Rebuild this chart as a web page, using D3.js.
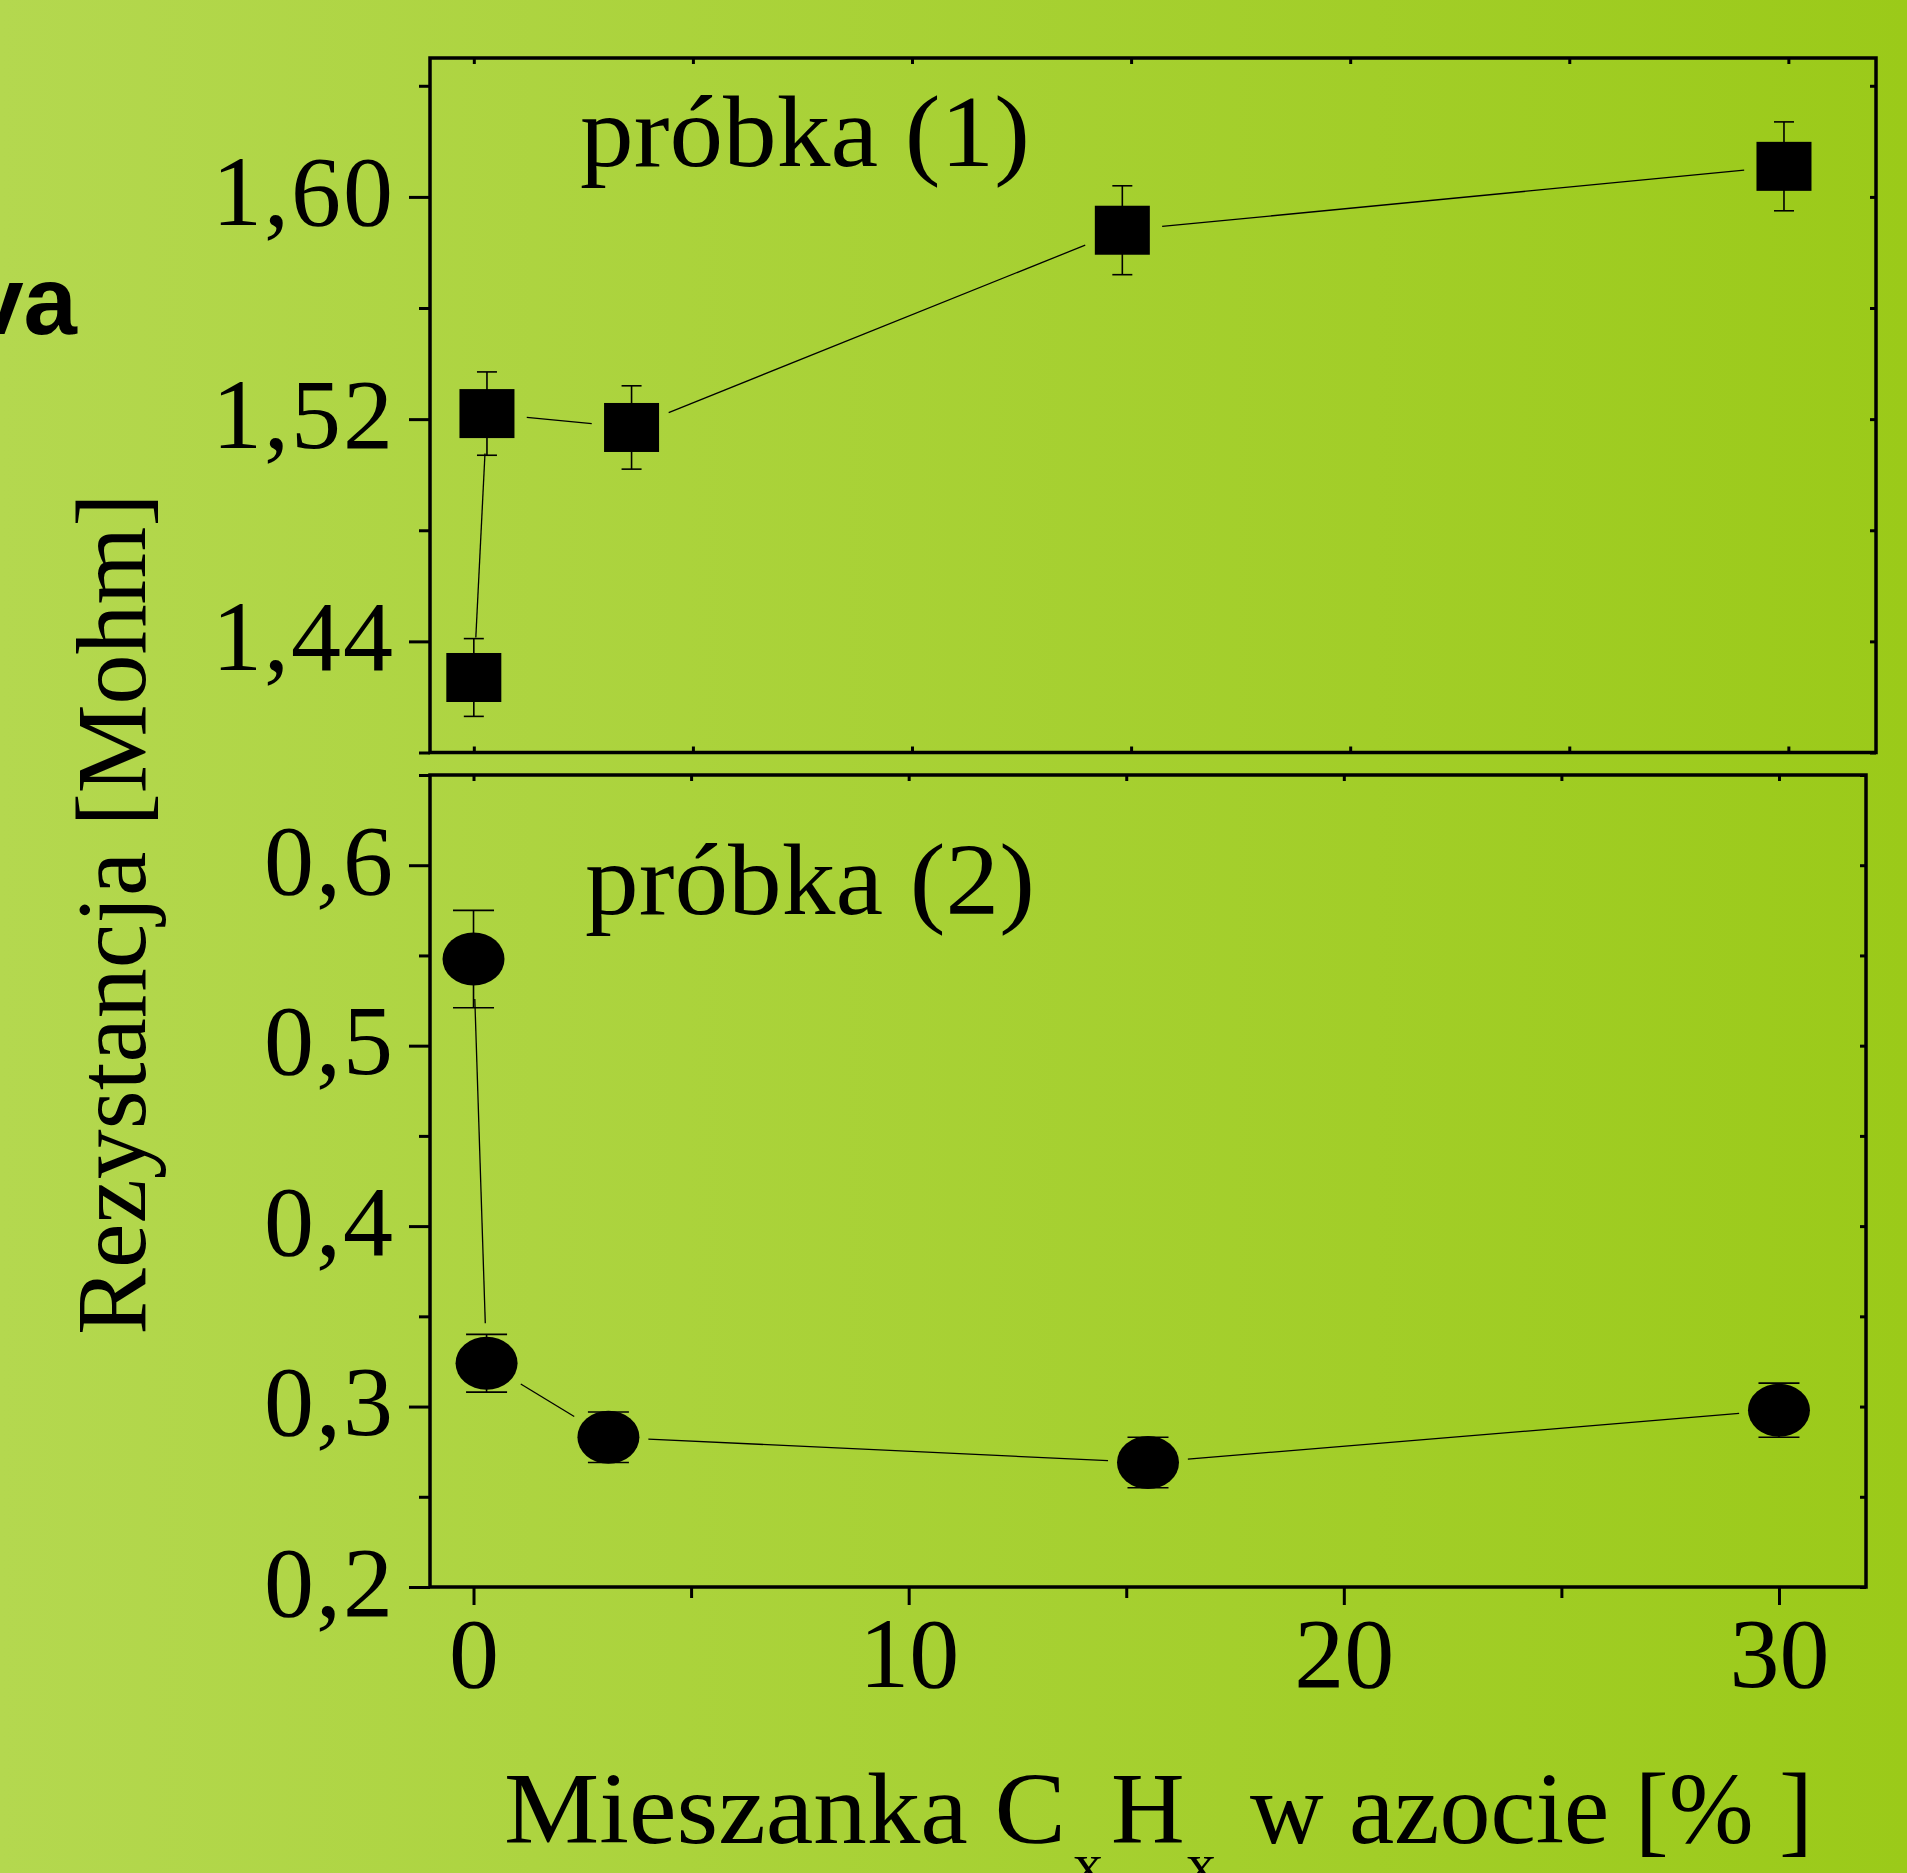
<!DOCTYPE html>
<html>
<head>
<meta charset="utf-8">
<script src="https://cdn.jsdelivr.net/npm/d3@7"></script>
<style>
	html, body { margin: 0; padding: 0; background: #a8d33a; }
	svg text { font-family: "Liberation Serif", "Times New Roman", serif; fill: #000; }
</style>
</head>
<body>
<svg id="SVG" width="1907" height="1873"></svg>
<script>
// próbka (1) - squares
const xs1 = [0, 0.3, 3.6, 14.8, 29.9];
const r1 = [1.427, 1.522, 1.517, 1.588, 1.611];
const e1 = [0.014, 0.015, 0.015, 0.016, 0.016];
// próbka (2) - circles
const xs2 = [0, 0.3, 3.1, 15.5, 30.0];
const r2 = [0.548, 0.324, 0.283, 0.269, 0.298];
const e2 = [0.027, 0.016, 0.014, 0.014, 0.015];

const xDomain = [-1, 32];
const xMajor = [0, 10, 20, 30];
const xMinor = [5, 15, 25];
const yMajor1 = [1.44, 1.52, 1.60];
const yMinor1 = [1.40, 1.48, 1.56, 1.64];
const yMajor2 = [0.2, 0.3, 0.4, 0.5, 0.6];
const yMinor2 = [0.25, 0.35, 0.45, 0.55, 0.65];

const svg = d3.select('#SVG');

// tło - gradient
const defs = svg.append('defs');
const grad = defs.append('linearGradient').attr('id', 'bg').attr('x1', '0%').attr('x2', '100%').attr('y1', '0%').attr('y2', '0%');
grad.append('stop').attr('offset', '0%').attr('stop-color', '#b4d84f');
grad.append('stop').attr('offset', '100%').attr('stop-color', '#9bca19');
svg.append('rect').attr('width', 1907).attr('height', 1873).attr('fill', 'url(#bg)');

// fragment tytułu slajdu
svg.append('text').attr('x', 77).attr('y', 334).attr('text-anchor', 'end')
	.style('font-family', '"Liberation Sans", Arial, sans-serif').style('font-weight', 'bold').style('font-size', '96px')
	.text('va');

const comma = (d, n) => d.toFixed(n).replace('.', ',');

const panel = (box, yDomain, yMajor, yMinor, yDigits, xs, ys, es, marker, capW, label, labelPos, showX) => {
	const x = d3.scaleLinear().domain(xDomain).range([box.left, box.right]);
	const y = d3.scaleLinear().domain(yDomain).range([box.bottom, box.top]);
	const g = svg.append('g');

	// lewa oś - duże i małe podziałki
	const left = g.append('g').attr('transform', `translate(${box.left},0)`)
		.call(d3.axisLeft(y).tickValues(yMajor).tickSize(21).tickPadding(14).tickFormat((d) => comma(d, yDigits)));
	left.append('g').call(d3.axisLeft(y).tickValues(yMinor).tickSize(11).tickFormat(''));
	left.selectAll('.domain').remove();
	left.selectAll('text').attr('dy', '0.28em').style('font-size', '100px').style('letter-spacing', '2px')
		.style('font-family', '"Liberation Serif", serif');

	// prawa oś i górna - podziałki do środka
	const right = g.append('g').attr('transform', `translate(${box.right},0)`)
		.call(d3.axisLeft(y).tickValues(yMajor.concat(yMinor)).tickSize(6).tickFormat(''));
	const top = g.append('g').attr('transform', `translate(0,${box.top})`)
		.call(d3.axisBottom(x).tickValues(xMajor.concat(xMinor)).tickSize(6).tickFormat(''));
	right.selectAll('.domain').remove();
	top.selectAll('.domain').remove();

	if (showX) {
		const bottom = g.append('g').attr('transform', `translate(0,${box.bottom})`)
			.call(d3.axisBottom(x).tickValues(xMajor).tickSize(18).tickPadding(11));
		bottom.append('g').call(d3.axisBottom(x).tickValues(xMinor).tickSize(11).tickFormat(''));
		bottom.selectAll('.domain').remove();
		bottom.selectAll('text').style('font-size', '100px').style('font-family', '"Liberation Serif", serif');
	} else {
		const bottom = g.append('g').attr('transform', `translate(0,${box.bottom})`)
			.call(d3.axisTop(x).tickValues(xMajor.concat(xMinor)).tickSize(6).tickFormat(''));
		bottom.selectAll('.domain').remove();
	}
	g.selectAll('.tick line').attr('stroke', '#000').attr('stroke-width', 3);

	// ramka
	g.append('rect').attr('x', box.left).attr('y', box.top).attr('width', box.right - box.left).attr('height', box.bottom - box.top)
		.attr('fill', 'none').attr('stroke', '#000').attr('stroke-width', 3.5);

	const pts = xs.map((d, i) => ({ px: x(d), py: y(ys[i]), lo: y(ys[i] - es[i]), hi: y(ys[i] + es[i]) }));

	// linia łącząca z przerwami przy znacznikach
	const gap = 40;
	for (let i = 0; i < pts.length - 1; i++) {
		const a = pts[i], b = pts[i + 1];
		const dx = b.px - a.px, dy = b.py - a.py;
		const len = Math.sqrt(dx * dx + dy * dy);
		if (len <= gap * 2) continue;
		const ux = dx / len, uy = dy / len;
		g.append('line').attr('x1', a.px + ux * gap).attr('y1', a.py + uy * gap)
			.attr('x2', b.px - ux * gap).attr('y2', b.py - uy * gap)
			.attr('stroke', '#000').attr('stroke-width', 1.3);
	}

	// słupki błędów
	const eb = g.append('g').attr('stroke', '#000').attr('stroke-width', 1.6);
	pts.forEach((p) => {
		eb.append('line').attr('x1', p.px).attr('x2', p.px).attr('y1', p.hi).attr('y2', p.lo);
		eb.append('line').attr('x1', p.px - capW / 2).attr('x2', p.px + capW / 2).attr('y1', p.hi).attr('y2', p.hi);
		eb.append('line').attr('x1', p.px - capW / 2).attr('x2', p.px + capW / 2).attr('y1', p.lo).attr('y2', p.lo);
	});

	// znaczniki
	if (marker == 'square') {
		g.selectAll('.mk').data(pts).enter().append('rect').attr('class', 'mk')
			.attr('x', (d) => d.px - 27.5).attr('y', (d) => d.py - 24.5).attr('width', 55).attr('height', 49).attr('fill', '#000');
	} else {
		g.selectAll('.mk').data(pts).enter().append('ellipse').attr('class', 'mk')
			.attr('cx', (d) => d.px).attr('cy', (d) => d.py).attr('rx', 31).attr('ry', 26.5).attr('fill', '#000');
	}

	g.append('text').attr('x', labelPos[0]).attr('y', labelPos[1]).attr('textLength', 450).attr('lengthAdjust', 'spacingAndGlyphs')
		.style('font-size', '102px').text(label);
};

panel({ left: 430, right: 1876, top: 58, bottom: 752.5 }, [1.40, 1.65], yMajor1, yMinor1, 2, xs1, r1, e1, 'square', 20, 'próbka (1)', [580, 166], false);
panel({ left: 430, right: 1866, top: 775, bottom: 1587 }, [0.2, 0.65], yMajor2, yMinor2, 1, xs2, r2, e2, 'circle', 41, 'próbka (2)', [585, 914], true);

// tytuł osi Y
svg.append('text').attr('transform', 'translate(145,914) rotate(-90)').attr('text-anchor', 'middle')
	.style('font-size', '100px').text('Rezystancja [Mohm]');

// tytuł osi X z indeksami dolnymi (indeksy ucięte krawędzią jak w oryginale)
const xTitle = [
	{ t: 'Mieszanka C', x: 504, y: 1843, size: 102, len: 562 },
	{ t: 'x', x: 1073, y: 1884, size: 60, len: null },
	{ t: 'H', x: 1111, y: 1843, size: 102, len: null },
	{ t: 'x', x: 1186, y: 1884, size: 60, len: null },
	{ t: 'w azocie [% ]', x: 1250, y: 1843, size: 102, len: 563 },
];
xTitle.forEach((p) => {
	const t = svg.append('text').attr('x', p.x).attr('y', p.y).style('font-size', `${p.size}px`).text(p.t);
	if (p.len) t.attr('textLength', p.len).attr('lengthAdjust', 'spacingAndGlyphs');
});
</script>
</body>
</html>
